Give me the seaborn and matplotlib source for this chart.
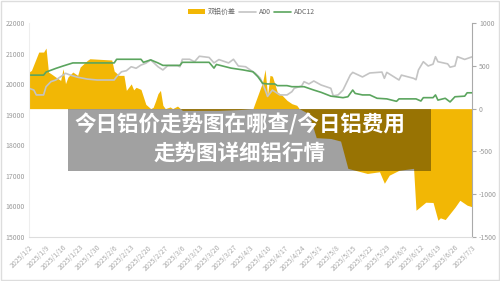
import matplotlib
matplotlib.use("Agg")
import matplotlib.pyplot as plt
import seaborn as sns
import pandas as pd
from matplotlib.patches import Rectangle, Patch
from matplotlib.lines import Line2D

sns.set_theme(style="white")
plt.rcParams['font.family'] = ['Noto Sans CJK SC', 'DejaVu Sans']
plt.rcParams['axes.unicode_minus'] = False

# ---------------- data ----------------
adc12_dates = ["01-02", "01-08", "01-09", "01-13", "01-16", "01-20", "02-06", "02-07", "02-17", "02-18",
               "02-21", "02-24", "02-26", "03-05", "03-06", "03-17", "03-19", "03-20", "03-26", "03-31",
               "04-04", "04-06", "04-08", "04-10", "04-13", "04-14", "04-18", "04-20", "04-25", "04-29",
               "05-02", "05-06", "05-11", "05-13", "05-15", "05-16", "05-19", "05-22", "05-25", "05-29",
               "06-02", "06-03", "06-10", "06-12", "06-13", "06-17", "06-18", "06-19", "06-22", "06-24",
               "06-26", "06-30", "07-01", "07-03"]
adc12_values = [20300, 20300, 20400, 20520, 20600, 20700, 20700, 20820, 20820, 20720,
                20800, 20700, 20620, 20620, 20720, 20720, 20530, 20650, 20530, 20470,
                20410, 20250, 20030, 20010, 20010, 19955, 19955, 19920, 19920, 19810,
                19735, 19610, 19560, 19590, 19810, 19700, 19650, 19650, 19540, 19520,
                19440, 19520, 19520, 19450, 19560, 19560, 19650, 19480, 19540, 19420,
                19590, 19610, 19720, 19720]

a00_dates = ["01-02", "01-04", "01-05", "01-08", "01-09", "01-11", "01-13", "01-16", "01-17", "01-19",
             "01-22", "01-26", "01-30", "02-06", "02-07", "02-09", "02-11", "02-13", "02-15", "02-17",
             "02-19", "02-21", "02-24", "02-26", "02-28", "03-04", "03-05", "03-06", "03-09", "03-11",
             "03-13", "03-17", "03-19", "03-21", "03-25", "03-27", "03-29", "04-01", "04-04", "04-05",
             "04-07", "04-09", "04-10", "04-12", "04-15", "04-18", "04-20", "04-21", "04-24", "04-25",
             "04-27", "04-29", "05-02", "05-06", "05-07", "05-09", "05-11", "05-14", "05-15", "05-19",
             "05-22", "05-27", "05-28", "05-29", "06-03", "06-04", "06-09", "06-10", "06-11", "06-13",
             "06-15", "06-17", "06-18", "06-19", "06-23", "06-24", "06-26", "06-27", "06-30", "07-03"]
a00_values = [19868, 19810, 19650, 19650, 19920, 20085, 20140, 20300, 20360, 20300,
              20230, 20170, 20140, 20140, 20250, 20410, 20445, 20575, 20525, 20630,
              20690, 20800, 20575, 20470, 20610, 20610, 20575, 20820, 20820, 20740,
              20920, 20880, 20700, 20810, 20700, 20820, 20600, 20575, 20410, 20360,
              20200, 19820, 19600, 19810, 19650, 19650, 19756, 19868, 19944, 20085,
              20010, 20107, 19976, 19868, 19620, 19650, 19810, 20304, 20390, 20240,
              20370, 20400, 20195, 20390, 20140, 20300, 20195, 20150, 20470, 20740,
              20600, 20660, 20905, 20740, 20670, 20560, 20600, 20905, 20815, 20900]

spread_dates = ["01-02", "01-03", "01-06", "01-08", "01-09", "01-10", "01-11", "01-13", "01-15", "01-16",
                "01-17", "01-18", "01-20", "01-22", "01-23", "01-26", "01-27", "02-05", "02-06", "02-08",
                "02-10", "02-11", "02-13", "02-14", "02-15", "02-17", "02-19", "02-21", "02-22", "02-23",
                "02-24", "02-25", "02-26", "02-27", "03-01", "03-02", "03-04", "03-06", "03-13", "03-21",
                "03-30", "04-04", "04-06", "04-08", "04-09", "04-10", "04-11", "04-12", "04-14", "04-16",
                "04-18", "04-20", "04-22", "04-23", "04-27", "04-30", "05-06", "05-10", "05-13", "05-21",
                "05-26", "05-28", "05-30", "06-03", "06-09", "06-10", "06-14", "06-17", "06-19", "06-20",
                "06-22", "06-26", "06-28", "07-01", "07-03"]
spread_values = [429, 448, 663, 663, 710, 429, 410, 370, 331, 468,
                 293, 370, 429, 390, 487, 566, 585, 570, 440, 390,
                 390, 214, 290, 220, 250, 225, 50, 0, 15, 90,
                 176, 214, 39, 0, 20, 0, 30, -20, -20, -20,
                 -10, 0, 156, 312, 460, 156, 390, 380, 195, 156,
                 97, 58, 39, 0, -60, -340, -350, -380, -700, -760,
                 -740, -875, -780, -723, -700, -1191, -1097, -1100, -1308, -1280,
                 -1300, -1156, -1074, -1132, -1150]

tick_labels = ["2025/1/2", "2025/1/9", "2025/1/16", "2025/1/23", "2025/1/30", "2025/2/6", "2025/2/13",
               "2025/2/20", "2025/2/27", "2025/3/6", "2025/3/13", "2025/3/20", "2025/3/27", "2025/4/3",
               "2025/4/10", "2025/4/17", "2025/4/24", "2025/5/1", "2025/5/8", "2025/5/15", "2025/5/22",
               "2025/5/29", "2025/6/5", "2025/6/12", "2025/6/19", "2025/6/26", "2025/7/3"]
left_ticks = [15000, 16000, 17000, 18000, 19000, 20000, 21000, 22000]
right_ticks = [-1500, -1000, -500, 0, 500, 1000]

series_names = ["双铝价差", "A00", "ADC12"]
title_lines = ["今日铝价走势图在哪查/今日铝费用", "走势图详细铝行情"]

# ---------------- styling ----------------
YELLOW = "#F2B705"
GRAY_LINE = "#C4C4C4"
GREEN = "#5BA55E"
TICK_COLOR = "#9a9a9a"

adc = pd.DataFrame({"date": pd.to_datetime(["2025-" + d for d in adc12_dates]), "v": adc12_values})
a00 = pd.DataFrame({"date": pd.to_datetime(["2025-" + d for d in a00_dates]), "v": a00_values})
spr = pd.DataFrame({"date": pd.to_datetime(["2025-" + d for d in spread_dates]), "v": spread_values})
tick_pos = pd.to_datetime(tick_labels, format="%Y/%m/%d")

fig = plt.figure(figsize=(5, 2.81), dpi=100)
fig.patch.set_facecolor("white")
ax = fig.add_axes([0.058, 0.158, 0.886, 0.759])
ax2 = ax.twinx()

# area on the right axis
ax2.fill_between(spr["date"], 0, spr["v"], color=YELLOW, linewidth=0)
ax2.set_ylim(-1500, 1000)

# lines on the left axis
sns.lineplot(data=a00, x="date", y="v", ax=ax, color=GRAY_LINE, linewidth=1.2, legend=False)
sns.lineplot(data=adc, x="date", y="v", ax=ax, color=GREEN, linewidth=1.2, legend=False)
ax.set_ylim(15000, 22000)
ax.set_xlim(tick_pos[0], tick_pos[-1])
ax.set_zorder(ax2.get_zorder() + 1)
ax.patch.set_visible(False)

ax.set_xlabel("")
ax.set_ylabel("")
ax2.set_ylabel("")

ax.set_yticks(left_ticks)
ax.set_yticklabels([str(t) for t in left_ticks])
ax.set_xticks(tick_pos)
ax.set_xticklabels(tick_labels, rotation=45, ha="right", rotation_mode="anchor")
ax2.set_yticks(right_ticks)
ax2.set_yticklabels([str(t) for t in right_ticks])

ax.tick_params(axis="y", labelsize=5, colors=TICK_COLOR, length=0, pad=3)
ax.tick_params(axis="x", labelsize=5, colors="#aaaaaa", length=3, width=0.6, pad=2, color="#dddddd")
ax2.tick_params(axis="y", labelsize=5, colors=TICK_COLOR, length=3, width=0.8, pad=2, color="#aaaaaa")

for a in (ax, ax2):
    for s in a.spines.values():
        s.set_visible(False)
ax.spines["left"].set_visible(True)
ax.spines["left"].set_color("#eeeeee")
ax.spines["left"].set_linewidth(0.8)
ax.spines["bottom"].set_visible(True)
ax.spines["bottom"].set_color("#dddddd")
ax.spines["bottom"].set_linewidth(0.8)
ax2.spines["right"].set_visible(True)
ax2.spines["right"].set_color("#aaaaaa")
ax2.spines["right"].set_linewidth(0.8)
ax.grid(False)
ax2.grid(False)

# legend
handles = [Patch(facecolor=YELLOW, edgecolor="none"),
           Line2D([0], [0], color=GRAY_LINE, lw=1.2),
           Line2D([0], [0], color=GREEN, lw=1.2)]
leg = fig.legend(handles, series_names, loc="center", bbox_to_anchor=(0.503, 0.957), ncol=3,
                 frameon=False, fontsize=5, handlelength=2.4, handleheight=0.7,
                 columnspacing=0.5, handletextpad=0.4)
for t in leg.get_texts():
    t.set_color("#666666")

# figure border
fig.patches.append(Rectangle((0.001, 0.002), 0.997, 0.995, transform=fig.transFigure,
                             fill=False, edgecolor="#dddddd", linewidth=1.0))

# overlay title box
fig.patches.append(Rectangle((68 / 500, 1 - 171 / 281), (431 - 68) / 500, (171 - 109) / 281,
                             transform=fig.transFigure, facecolor="black", alpha=0.37,
                             edgecolor="none", zorder=10))
fig.text(240 / 500, 1 - 124 / 281, title_lines[0], ha="center", va="center", color="white",
         fontsize=15.5, fontweight="bold", zorder=11, family=["Noto Sans CJK SC", "DejaVu Sans"])
fig.text(240 / 500, 1 - 153 / 281, title_lines[1], ha="center", va="center", color="white",
         fontsize=15.5, fontweight="bold", zorder=11, family=["Noto Sans CJK SC", "DejaVu Sans"])

fig.savefig("out.png", dpi=100, facecolor="white")
